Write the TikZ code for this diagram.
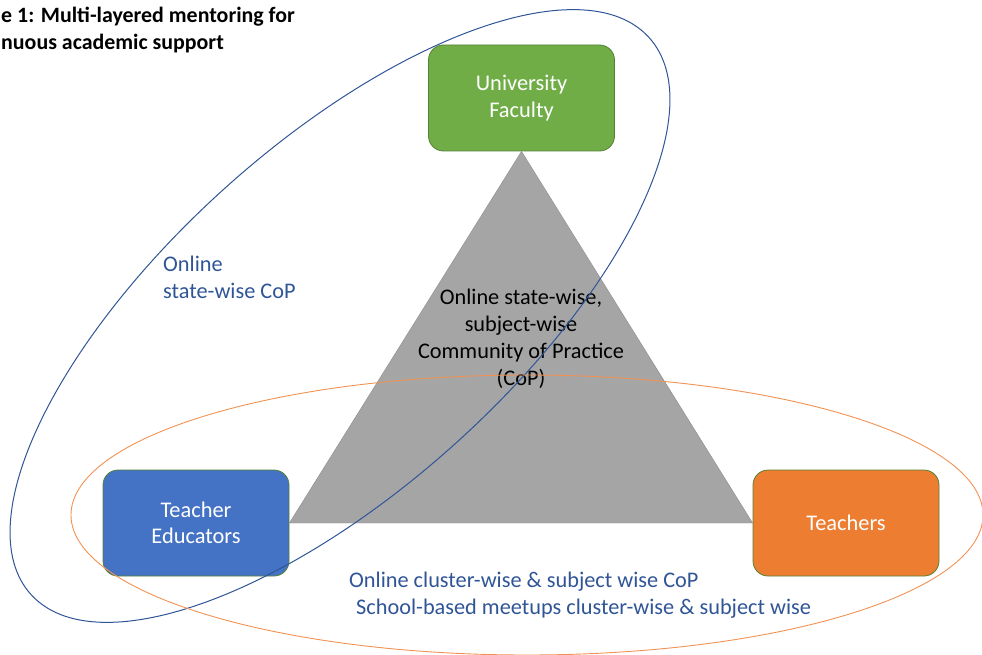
\documentclass[tikz,border=0pt]{standalone}
\usepackage{fontspec}
\setmainfont{Carlito}
\definecolor{ufgreen}{RGB}{112,173,71}
\definecolor{teblue}{RGB}{68,114,196}
\definecolor{tcorange}{RGB}{237,125,49}
\definecolor{edgegreen}{RGB}{84,130,53}
\definecolor{copgray}{RGB}{165,165,165}
\definecolor{ringblue}{RGB}{47,85,151}
\definecolor{ringorange}{RGB}{241,146,84}
\begin{document}
\begin{tikzpicture}[x=1pt, y=-1pt,
  role/.style={rectangle, rounded corners=15pt, draw=edgegreen, line width=0.8pt,
    minimum width=186pt, minimum height=106pt, text=white, align=center,
    font=\fontsize{22.4}{26.5}\selectfont},
  ringlbl/.style={inner sep=0pt, align=left, text=ringblue,
    font=\fontsize{22.3}{26.5}\selectfont}]
  \useasboundingbox (0,0) rectangle (982,655);
  % title, cut at the left edge
  \node[inner sep=0pt, anchor=north west, align=left,
    font=\bfseries\fontsize{21.9}{27}\selectfont] (title) at (1,7)
    {e 1: Multi-layered mentoring for\\nuous academic support};
  % the three groups
  \node[role, fill=ufgreen] (univ) at (521.5,98) {University\\Faculty};
  \node[role, fill=teblue] (tedu) at (196,523) {Teacher\\Educators};
  \node[role, fill=tcorange] (teach) at (846,523) {Teachers};
  % CoP triangle between them
  \draw[fill=copgray, draw=copgray!85!black, line width=0.4pt]
    (univ.south) -- (tedu.east) -- (teach.west) -- cycle;
  \node[align=center, inner sep=0pt, font=\fontsize{22.3}{27}\selectfont] (cop) at (521,339)
    {Online state-wise,\\subject-wise\\Community of Practice\\(CoP)};
  % outer rings
  \draw[ringblue, line width=1pt, rotate around={42:(340,316)}]
    (340,316) ellipse [x radius=416pt, y radius=172pt];
  \draw[ringorange, line width=0.9pt] (527,515) ellipse [x radius=456pt, y radius=140pt];
  \node[ringlbl, anchor=north west] (stateCoP) at (163,256) {Online\\state-wise CoP};
  \node[ringlbl, anchor=north west] (clusterCoP) at (349,572)
    {Online cluster-wise \& subject wise CoP\\\hspace*{7pt}School-based meetups cluster-wise \& subject wise};
\end{tikzpicture}
\end{document}
